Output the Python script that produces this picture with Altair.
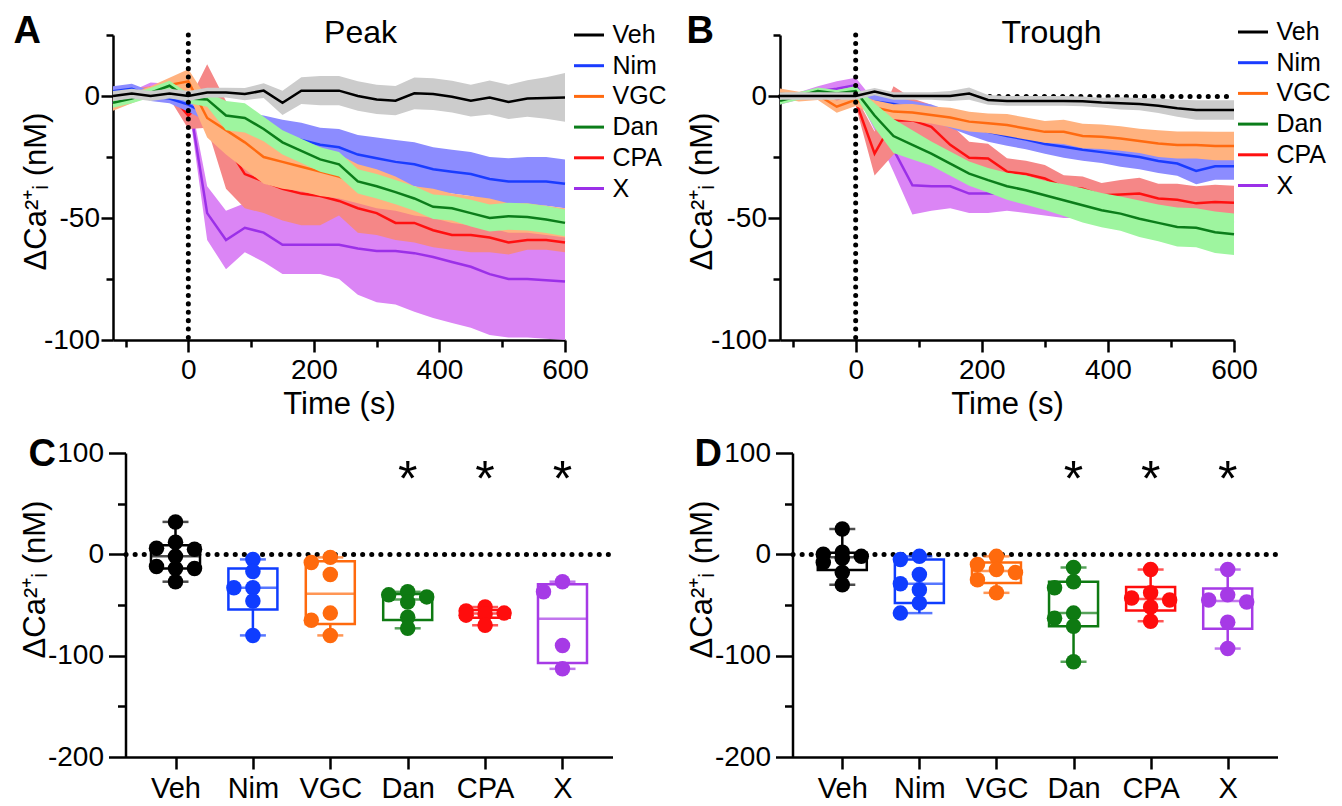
import numpy as np
import pandas as pd
import altair as alt

FONT = "Liberation Sans"
groups = ["Veh", "Nim", "VGC", "Dan", "CPA", "X"]
line_colors = ["#000000", "#1a3cff", "#ff6a10", "#0b7d1a", "#ff1010", "#9b30e8"]
band_colors = ["#cccccc", "#8c8cff", "#ffb27f", "#9ef59f", "#f58787", "#db85f5"]
dot_colors = ["#000000", "#0f3dff", "#ff6a0d", "#0e7a12", "#ff0d0d", "#a63ae6"]
draw_order = ["X", "CPA", "Nim", "VGC", "Dan", "Veh"]

time_s = [-120, -90, -60, -30, 0, 30, 60, 90, 120, 150, 180, 210, 240, 270, 300,
          330, 360, 390, 420, 450, 480, 510, 540, 570, 600]
x_ticks = [-100, 0, 100, 200, 300, 400, 500, 600]
y_ticks_tc = [-100, -75, -50, -25, 0, 25]
y_ticks_box = [-200, -150, -100, -50, 0, 50, 100]
significant = ["Dan", "CPA", "X"]
YTITLE = "ΔCa²⁺ᵢ (nM)"

# ---- Panel A (Peak): mean and SEM ----
veh_peak = [0, 1, 0, 1, 0, 1.4, 1.4, 0.8, 2.2, -2.8, 2.2, 2.2, 2.2, 0, -1.4, -1.9, 1.1, 0.8, -0.3, -1.9, -0.6, -2.4, -1, -0.8, -0.6]
veh_peak_sem = [2, 2, 2, 2, 2, 2, 2, 2.5, 3, 5, 5.5, 6, 6, 6, 6, 6, 6.5, 6.5, 6.5, 6.5, 7, 7, 7.5, 8.5, 10]
nim_peak = [2, 3, 0, -1, -3.5, -7.5, -10, -12, -14, -16.7, -18, -20, -21, -24, -25.5, -27, -28, -30, -31, -32, -34, -35, -35, -35, -36]
nim_peak_sem = [2, 2, 2, 2, 3, 3, 4, 5, 6, 7, 7, 7, 7.5, 8, 8.5, 9, 9, 9, 9, 9, 9, 9.5, 10, 10, 10]
vgc_peak = [-4, -1, 2, 4.5, 6, -9, -14, -19, -25, -27, -29, -31, -33, -36, -38, -40, -43, -44, -46, -47, -48, -50, -50, -51, -52]
vgc_peak_sem = [2, 2, 2, 3, 5, 8, 10, 11, 11, 11, 10, 10, 9, 8, 8, 7, 6, 6, 6, 6, 6, 6, 6, 6, 6]
dan_peak = [-2.8, -1, 1.4, 4.2, -1, -1.4, -8, -9, -13.5, -19, -22.5, -26, -28, -35, -37, -39.4, -42, -45.4, -46, -48, -50, -49.3, -49.6, -50.6, -52]
dan_peak_sem = [2, 2, 2, 2, 2, 3, 6, 6, 5, 5, 5, 5, 5, 5, 5, 5, 5, 5, 5, 5.5, 5.5, 5.5, 5.5, 5.5, 5.5]
cpa_peak = [-2, 1, 2, 1, -8, 0, -20, -32, -35, -38, -40, -41, -43, -46, -48, -52, -52, -55, -57, -57, -58, -60, -59, -59, -60]
cpa_peak_sem = [2, 2, 2, 2, 5.5, 13, 18, 14, 13, 13, 13, 12, 6, 10, 9, 7, 8, 7, 6, 7, 6, 5, 4, 4, 4]
x_peak = [-3, 0, 3.5, 3, 0, -48, -59, -54, -56, -61, -61, -61, -61, -62.5, -63.5, -63.5, -64.4, -66, -68, -70, -73, -75, -75, -75.5, -76]
x_peak_sem = [2, 2, 2, 2, 3, 11, 12, 10, 12, 12, 12, 12, 14, 19, 21, 22, 24, 25, 25, 25, 25, 24, 24, 24, 24]

# ---- Panel B (Trough): mean and SEM ----
veh_trough = [0, 0, 0, 0, 0, 1.8, 0, 0, 0, 0, 1, -1.6, -2, -2, -2, -2, -2.2, -2.7, -3, -3.3, -4, -5, -5.7, -5.7, -5.7]
veh_trough_sem = [1.5, 1.5, 1.5, 1.5, 1.5, 1.5, 1.5, 1.5, 1.5, 2, 2.5, 2, 2, 2, 2, 2, 2, 2, 2.5, 2.5, 3, 3.5, 4, 4, 4]
nim_trough = [-1, 0, 0, 1, 0, -2.3, -3.3, -5, -7, -9.6, -12.6, -14.7, -16.4, -17.8, -19.7, -20.8, -22, -23, -24, -25, -26.6, -27.7, -30.7, -28.8, -28.8]
nim_trough_sem = [1.5, 1.5, 1.5, 1.5, 2, 3, 3, 3, 3.5, 3.5, 3.5, 4, 4, 4, 4, 4.5, 4.5, 4.5, 5, 5, 5, 5, 5.5, 5.5, 5.5]
vgc_trough = [1.1, -0.3, 0.4, -4.4, -1.6, -4.7, -6.4, -6.8, -7.8, -8.8, -10.5, -11.2, -11.9, -13.3, -14.7, -14.7, -16.4, -16.7, -17.4, -18.4, -19.5, -20.1, -20.1, -20.5, -20.5]
vgc_trough_sem = [2, 2, 2, 2.5, 2.5, 3, 3, 3.5, 3.5, 4, 4, 4, 4.5, 4.5, 4.5, 5, 5, 5, 5, 5, 5.5, 5.5, 5.5, 5.8, 5.8]
dan_trough = [-2, 0, 2, 1, 2, -8, -16.4, -20, -23.6, -27.7, -31.8, -34.5, -37, -38.6, -40.7, -42.7, -44.8, -46.8, -48.2, -50.3, -52, -53.7, -54, -55.8, -56.7]
dan_trough_sem = [1.5, 1.5, 1.5, 1.5, 2, 5, 7, 6, 5, 5, 5, 5, 5.5, 6, 6, 6.5, 7, 7, 7, 7.5, 7.5, 8, 8, 8.5, 8.5]
cpa_trough = [0, 0, 0, -1, -2, -23.6, -10, -10, -12.6, -20, -25.3, -25.6, -31, -32, -33.8, -37.5, -38, -40.7, -40.4, -40, -42, -42.5, -44, -43.4, -43.8]
cpa_trough_sem = [1.5, 1.5, 1.5, 1.5, 2, 9, 14, 9, 9, 8.5, 6.5, 6, 5.5, 5.5, 5.5, 5, 5, 5, 6, 6.5, 6, 6.5, 7, 7, 7]
x_trough = [-2, 0, 2, 3, 4.5, -8, -22, -36.6, -37, -37, -40, -40, -40, -41, -42, -43, -44, -45, -46, -47, -48, -49, -50, -51, -52]
x_trough_sem = [1.5, 1.5, 2, 3, 3, 6, 9, 12, 10, 9, 8, 8, 7, 7, 7, 7, 6, 6, 6, 6, 6, 6, 6, 6, 6]

# ---- Panel C (peak, per cell) ----
peak_veh_pts = [32, 12, 6, 5, -2, -12, -14, -14, -27]
peak_nim_pts = [-5, -17, -33, -33, -46, -80]
peak_vgc_pts = [-3, -8, -20, -58, -65, -80]
peak_dan_pts = [-37, -40, -42, -47, -62, -73]
peak_cpa_pts = [-52, -56, -58, -59, -60, -70]
peak_x_pts = [-27, -37, -90, -113]

# ---- Panel D (trough, per cell) ----
trough_veh_pts = [25, 2, 0, -2, -4, -8, -18, -30]
trough_nim_pts = [-2, -5, -20, -29, -35, -48, -58]
trough_vgc_pts = [-2, -10, -15, -18, -25, -38]
trough_dan_pts = [-13, -27, -33, -58, -63, -71, -106]
trough_cpa_pts = [-15, -38, -43, -45, -52, -66]
trough_x_pts = [-15, -40, -45, -47, -67, -93]

CELL_W = 499.5      # common cell width of the left column
CELL_W2 = 497.5     # common cell width of the right column


def cond(test, yes, no):
    return {"condition": {"test": test, "value": yes}, "value": no}


def axis_common(**kw):
    base = dict(domainColor="black", domainWidth=2.5, tickColor="black", tickWidth=2.5,
                labelFont=FONT, labelFontSize=28, labelColor="black",
                titleFont=FONT, titleFontSize=31, titleFontWeight="normal", titleColor="black",
                grid=False, labelFlush=False, labelOverlap=False)
    base.update(kw)
    return alt.Axis(**base)


def zero_grid():
    return dict(grid=True, gridColor="black", gridWidth=5, gridCap="round", gridDash=[0.1, 9],
                gridOpacity=cond("datum.value === 0", 1, 0))


def text_layer(txt, x, y, size, weight="normal", align="left"):
    return alt.Chart(pd.DataFrame({"txt": [txt]})).mark_text(
        font=FONT, fontSize=size, fontWeight=weight, align=align, baseline="alphabetic", color="black"
    ).encode(text="txt:N", x=alt.value(x), y=alt.value(y))


def tc_panel(means, sems, plot_w, cell_w, letter, letter_xy, title, title_x, legend_xy, ytitle_x, zero_line):
    rows = []
    for g in groups:
        for t, m, e in zip(time_s, means[g], sems[g]):
            rows.append({"series": g, "t": t, "mean": m, "lo": m - e, "hi": m + e})
    df = pd.DataFrame(rows)
    xs = alt.Scale(domain=[-120, 600], nice=False, zero=False, range=[0, plot_w])
    ys = alt.Scale(domain=[-100, 25], nice=False, zero=False)
    xax = axis_common(values=x_ticks, title="Time (s)",
                      labelExpr="datum.value % 200 === 0 ? '' + datum.value : ''",
                      tickSize=cond("datum.value % 200 === 0", 12, 7),
                      labelPadding=4, titlePadding=5)
    ykw = dict(values=y_ticks_tc, title=YTITLE,
               labelExpr="datum.value % 50 === 0 ? '' + datum.value : ''",
               tickSize=cond("datum.value % 50 === 0", 12, 7),
               labelPadding=1.5, titleX=ytitle_x, titleY=156, titleBaseline="alphabetic")
    if zero_line:
        ykw.update(zero_grid())
    yax = axis_common(**ykw)
    stroke_scale = alt.Scale(domain=groups, range=line_colors)
    fill_scale = alt.Scale(domain=groups[::-1], range=band_colors[::-1])
    leg = alt.Legend(orient="none", legendX=legend_xy[0], legendY=legend_xy[1], title=None,
                     symbolType="stroke", symbolSize=900, symbolStrokeWidth=3,
                     labelFont=FONT, labelFontSize=25, labelColor="black", labelOffset=7,
                     rowPadding=0.7, padding=0)
    base = alt.Chart(df)
    X = alt.X("t:Q", scale=xs, axis=xax)
    layers = []
    for g in draw_order:
        sub = base.transform_filter(alt.datum.series == g)
        layers.append(sub.mark_area(opacity=1).encode(
            x=X, y=alt.Y("lo:Q", scale=ys, axis=yax), y2="hi:Q",
            fill=alt.Fill("series:N", scale=fill_scale, legend=None)))
        layers.append(sub.mark_line(strokeWidth=2.5).encode(
            x=X, y=alt.Y("mean:Q", scale=ys, axis=yax),
            stroke=alt.Stroke("series:N", scale=stroke_scale, legend=leg)))
    layers.append(alt.Chart(pd.DataFrame({"z": [0]})).mark_rule(
        strokeDash=[0.1, 8.3], strokeCap="round", strokeWidth=5, color="black"
    ).encode(x=alt.X("z:Q", scale=xs, axis=xax)))
    layers.append(text_layer(letter, letter_xy[0], letter_xy[1], 38, "bold"))
    layers.append(text_layer(title, title_x, 8, 32, align="center"))
    return alt.layer(*layers).properties(width=cell_w, height=305)


def swarm(vals, thresh):
    order = np.argsort(-np.array(vals, dtype=float), kind="stable")
    placed = []
    offs = [0] * len(vals)
    for i in order:
        v = vals[i]
        best, best_d = 0, -1.0
        for off in (0, -1, 1):
            d = min([abs(v - pv) for pv, po in placed if po == off], default=1e9)
            if d >= thresh:
                best = off
                break
            if d > best_d:
                best, best_d = off, d
        offs[i] = best
        placed.append((v, best))
    return offs


def box_panel(vals, plot_w, cell_w, letter, letter_xy, ytitle_x):
    shift = cell_w - plot_w
    pts = []
    stats = []
    for g in groups:
        v = vals[g]
        for vi, oi in zip(v, swarm(v, 11)):
            pts.append({"g": g, "v": vi, "jit": oi})
        a = np.array(v, dtype=float)
        q1, med, q3 = np.percentile(a, [25, 50, 75], method="weibull")
        stats.append({"g": g, "q1": q1, "med": med, "q3": q3, "lo": a.min(), "hi": a.max()})
    pdf = pd.DataFrame(pts)
    sdf = pd.DataFrame(stats)
    xs = alt.Scale(type="point", domain=groups, padding=0.646, range=[shift, cell_w])
    ys = alt.Scale(domain=[-200, 100], nice=False, zero=False)
    xax = axis_common(title=None, tickSize=12, labelPadding=5, labelFontSize=29, labelAngle=0)
    yax = axis_common(values=y_ticks_box, title=YTITLE, offset=-shift,
                      labelExpr="datum.value % 100 === 0 ? '' + datum.value : ''",
                      tickSize=cond("datum.value % 100 === 0", 17, 8),
                      labelPadding=5, titleX=ytitle_x, titleY=126, titleBaseline="alphabetic",
                      **zero_grid())
    cscale = alt.Scale(domain=groups, range=dot_colors)
    X = alt.X("g:N", scale=xs, axis=xax)
    col = alt.Color("g:N", scale=cscale, legend=None)
    sb = alt.Chart(sdf)
    layers = [
        sb.mark_rule(strokeWidth=2.5).encode(x=X, y=alt.Y("lo:Q", scale=ys, axis=yax), y2="hi:Q", color=col),
        sb.mark_bar(width=49, fill="white", strokeWidth=2.5).encode(
            x=X, y=alt.Y("q1:Q", scale=ys, axis=yax), y2="q3:Q",
            stroke=alt.Stroke("g:N", scale=cscale, legend=None)),
        sb.mark_tick(size=49, thickness=2.5).encode(x=X, y=alt.Y("med:Q", scale=ys, axis=yax), color=col),
        sb.mark_tick(size=26, thickness=2.5).encode(x=X, y=alt.Y("lo:Q", scale=ys, axis=yax), color=col),
        sb.mark_tick(size=26, thickness=2.5).encode(x=X, y=alt.Y("hi:Q", scale=ys, axis=yax), color=col),
        alt.Chart(pdf).mark_circle(size=240, opacity=1).encode(
            x=X, y=alt.Y("v:Q", scale=ys, axis=yax), color=col,
            xOffset=alt.XOffset("jit:Q", scale=alt.Scale(domain=[-1, 1], range=[-19, 19]))),
        alt.Chart(pd.DataFrame({"g": significant})).mark_text(
            text="*", font=FONT, fontSize=50, baseline="alphabetic", color="black"
        ).encode(x=X, y=alt.value(43)),
        text_layer(letter, letter_xy[0], letter_xy[1], 38, "bold"),
    ]
    return alt.layer(*layers).properties(width=cell_w, height=304)


def spacer(w):
    return alt.Chart(pd.DataFrame({"z": [0]})).mark_point(opacity=0).encode(
        x=alt.X("z:Q", axis=None), y=alt.Y("z:Q", axis=None)
    ).properties(width=w, height=1)


peak_means = {"Veh": veh_peak, "Nim": nim_peak, "VGC": vgc_peak, "Dan": dan_peak, "CPA": cpa_peak, "X": x_peak}
peak_sems = {"Veh": veh_peak_sem, "Nim": nim_peak_sem, "VGC": vgc_peak_sem, "Dan": dan_peak_sem, "CPA": cpa_peak_sem, "X": x_peak_sem}
trough_means = {"Veh": veh_trough, "Nim": nim_trough, "VGC": vgc_trough, "Dan": dan_trough, "CPA": cpa_trough, "X": x_trough}
trough_sems = {"Veh": veh_trough_sem, "Nim": nim_trough_sem, "VGC": vgc_trough_sem, "Dan": dan_trough_sem, "CPA": cpa_trough_sem, "X": x_trough_sem}
peak_pts = {"Veh": peak_veh_pts, "Nim": peak_nim_pts, "VGC": peak_vgc_pts, "Dan": peak_dan_pts, "CPA": peak_cpa_pts, "X": peak_x_pts}
trough_pts = {"Veh": trough_veh_pts, "Nim": trough_nim_pts, "VGC": trough_vgc_pts, "Dan": trough_dan_pts, "CPA": trough_cpa_pts, "X": trough_x_pts}

panel_a = tc_panel(peak_means, peak_sems, 452, CELL_W, "A", (-99.5, 7.5), "Peak", 247.5, (459.5, -16.5), -67.5, False)
panel_b = tc_panel(trough_means, trough_sems, 454, CELL_W2, "B", (-93.5, 7.5), "Trough", 271.5, (456.5, -19.5), -68.5, True)
panel_c = box_panel(peak_pts, 487, CELL_W, "C", (-84.5, 13), -81)
panel_d = box_panel(trough_pts, 485, CELL_W2, "D", (-85.5, 13), -81)

chart = alt.concat(
    spacer(1), panel_a, spacer(166.5), panel_b,
    spacer(1), panel_c, spacer(166.5), panel_d,
    columns=4, spacing={"row": 113, "column": 0}, bounds="flush", align="each",
).resolve_scale(
    x="independent", y="independent", stroke="independent", fill="independent", color="independent"
).resolve_legend(
    stroke="independent", fill="independent", color="independent"
).configure_view(stroke=None).properties(
    padding={"left": 5, "top": 4, "right": 0, "bottom": 0}
)

chart.save("out.html", embed_options={"renderer": "svg", "actions": False})
